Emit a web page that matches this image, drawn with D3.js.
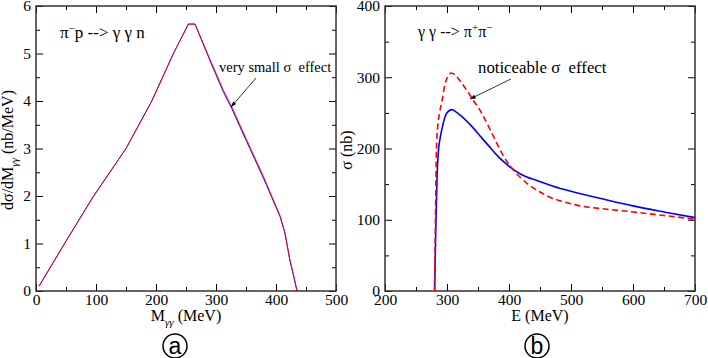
<!DOCTYPE html>
<html>
<head>
<meta charset="utf-8">
<script src="https://cdn.jsdelivr.net/npm/d3@7"></script>
<style>
  body { margin: 0; background: #fff; }
  svg text { font-family: "Liberation Serif", "Times New Roman", Times, "DejaVu Serif", serif; white-space: pre; }
</style>
</head>
<body>
<svg id="chart" width="708" height="358"></svg>
<script>
// panel a : pi- p --> gamma gamma n
var massA = [5, 50, 95, 150, 193, 229, 254, 265, 290, 312, 326, 351, 379, 393, 407, 415, 423, 430, 435];
var redA  = [0.1, 1.05, 1.98, 3.0, 4.0, 5.0, 5.62, 5.62, 4.88, 4.24, 3.89, 3.19, 2.42, 2.0, 1.58, 1.23, 0.67, 0.3, 0];
var blueA = [0.1, 1.05, 1.98, 3.0, 4.0, 5.0, 5.62, 5.62, 4.85, 4.2, 3.85, 3.15, 2.38, 1.97, 1.56, 1.21, 0.65, 0.28, 0];

// panel b : gamma gamma --> pi+ pi-
var energyBlue = [280, 282, 284, 286, 289, 292, 297, 302, 308, 315, 325, 340, 355, 367, 380, 394, 404, 420, 445, 470, 500, 550, 600, 650, 700];
var sigmaBlue  = [0, 90, 160, 195, 215, 228, 245, 252, 254.5, 251, 244, 231, 216, 204, 191, 179.5, 172.5, 163.5, 155, 147.5, 140, 129.5, 119.5, 111, 103];
var energyRed  = [280, 281.5, 283, 285, 288, 291.5, 297, 302, 307, 312, 320, 330, 340, 355, 367, 380, 390, 404, 420, 435, 450, 465, 485, 515, 555, 595, 635, 670, 700];
var sigmaRed   = [0, 110, 200, 230, 250, 265, 291, 302, 306, 304, 296, 284, 271, 251, 231, 208, 191, 173, 158, 147, 139, 132, 126, 119.5, 115, 111.5, 107.5, 104, 100.5];

var ticksA_x = [0, 100, 200, 300, 400, 500], minorA_x = [50, 150, 250, 350, 450];
var ticksA_y = [0, 1, 2, 3, 4, 5, 6], minorA_y = [0.5, 1.5, 2.5, 3.5, 4.5, 5.5];
var ticksB_x = [200, 300, 400, 500, 600, 700], minorB_x = [250, 350, 450, 550, 650];
var ticksB_y = [0, 100, 200, 300, 400], minorB_y = [50, 150, 250, 350];

var svg = d3.select("#chart");
var plotTop = 6, plotBottom = 291;
var serif = "'Liberation Serif', 'Times New Roman', Times, serif";

function frame(x, y, xt, xm, yt, ym) {
  var g = svg.append("g");
  var x0 = x.range()[0], x1 = x.range()[1];
  var fmt = d3.format("d");
  // major / minor ticks on all four sides, pointing inward
  var axes = [
    [d3.axisBottom(x).tickValues(xt).tickSize(-7).tickPadding(3).tickFormat(fmt), "translate(0," + plotBottom + ")"],
    [d3.axisBottom(x).tickValues(xm).tickSize(-4).tickFormat(""), "translate(0," + plotBottom + ")"],
    [d3.axisTop(x).tickValues(xt).tickSize(-7).tickFormat(""), "translate(0," + plotTop + ")"],
    [d3.axisTop(x).tickValues(xm).tickSize(-4).tickFormat(""), "translate(0," + plotTop + ")"],
    [d3.axisLeft(y).tickValues(yt).tickSize(-7).tickPadding(5).tickFormat(fmt), "translate(" + x0 + ",0)"],
    [d3.axisLeft(y).tickValues(ym).tickSize(-4).tickFormat(""), "translate(" + x0 + ",0)"],
    [d3.axisRight(y).tickValues(yt).tickSize(-7).tickFormat(""), "translate(" + x1 + ",0)"],
    [d3.axisRight(y).tickValues(ym).tickSize(-4).tickFormat(""), "translate(" + x1 + ",0)"]
  ];
  axes.forEach(function (a) {
    var ax = g.append("g").attr("transform", a[1]).call(a[0]);
    ax.attr("font-family", null);
    ax.select(".domain").remove();
    ax.selectAll("line").attr("stroke", "#000").attr("stroke-width", 1);
    ax.selectAll("text").attr("font-size", "15.5px").attr("fill", "#000")
      .style("font-family", serif);
  });
  g.append("rect").attr("x", x0).attr("y", plotTop).attr("width", x1 - x0).attr("height", plotBottom - plotTop)
    .attr("fill", "none").attr("stroke", "#333").attr("stroke-width", 1.5);
}

function arrow(x1, y1, x2, y2) {
  svg.append("line").attr("x1", x1).attr("y1", y1).attr("x2", x2).attr("y2", y2)
    .attr("stroke", "#000").attr("stroke-width", 0.8);
  var ang = Math.atan2(y2 - y1, x2 - x1), L = 6, w = 0.35;
  var p = [[x2, y2],
    [x2 - L * Math.cos(ang - w), y2 - L * Math.sin(ang - w)],
    [x2 - L * Math.cos(ang + w), y2 - L * Math.sin(ang + w)]];
  svg.append("path").attr("d", "M" + p.join("L") + "Z").attr("fill", "#000");
}

function circled(cx, cy, letter) {
  svg.append("circle").attr("cx", cx).attr("cy", cy).attr("r", 12)
    .attr("fill", "none").attr("stroke", "#000").attr("stroke-width", 1.5);
  svg.append("text").attr("x", cx).attr("y", cy + 8).attr("text-anchor", "middle")
    .style("font-family", "'Liberation Sans', Arial, sans-serif").attr("font-size", "23px").text(letter);
}

// ---------- panel a
var xA = d3.scaleLinear().domain([0, 500]).range([36, 336]);
var yA = d3.scaleLinear().domain([0, 6]).range([plotBottom, plotTop]);
frame(xA, yA, ticksA_x, minorA_x, ticksA_y, minorA_y);

var lineA = d3.line().x(function (d) { return xA(d[0]); }).y(function (d) { return yA(d[1]); });
svg.append("path").datum(d3.zip(massA, blueA)).attr("d", lineA)
  .attr("fill", "none").attr("stroke", "#0000ff").attr("stroke-width", 1);
svg.append("path").datum(d3.zip(massA, redA)).attr("d", lineA)
  .attr("fill", "none").attr("stroke", "#ff0000").attr("stroke-width", 1).attr("opacity", 0.8);

var tA = svg.append("text").attr("x", 60).attr("y", 38).attr("font-size", "17px");
tA.append("tspan").text("π");
tA.append("tspan").attr("dy", -6).attr("font-size", "11px").text("−");
tA.append("tspan").attr("dy", 6).text("p --> γ γ n");

svg.append("text").attr("x", 219).attr("y", 72).attr("font-size", "14.5px").text("very small σ  effect");
arrow(256, 78, 231, 107);

var xlA = svg.append("text").attr("x", 186).attr("y", 321).attr("text-anchor", "middle").attr("font-size", "16px");
xlA.append("tspan").text("M");
xlA.append("tspan").attr("dy", 5).attr("font-size", "11px").attr("font-style", "italic").text("γγ");
xlA.append("tspan").attr("dy", -5).text(" (MeV)");

var ylA = svg.append("text").attr("transform", "translate(13,150) rotate(-90)")
  .attr("text-anchor", "middle").attr("font-size", "16px");
ylA.append("tspan").text("dσ/dM");
ylA.append("tspan").attr("dy", 5).attr("font-size", "11px").attr("font-style", "italic").text("γγ");
ylA.append("tspan").attr("dy", -5).text(" (nb/MeV)");

circled(175, 346, "a");

// ---------- panel b
var xB = d3.scaleLinear().domain([200, 700]).range([385, 695]);
var yB = d3.scaleLinear().domain([0, 400]).range([plotBottom, plotTop]);
frame(xB, yB, ticksB_x, minorB_x, ticksB_y, minorB_y);

var lineB = d3.line().curve(d3.curveMonotoneX)
  .x(function (d) { return xB(d[0]); }).y(function (d) { return yB(d[1]); });
svg.append("path").datum(d3.zip(energyBlue, sigmaBlue)).attr("d", lineB)
  .attr("fill", "none").attr("stroke", "#0000ff").attr("stroke-width", 1.6);
svg.append("path").datum(d3.zip(energyRed, sigmaRed)).attr("d", lineB)
  .attr("fill", "none").attr("stroke", "#ff0000").attr("stroke-width", 1.6)
  .attr("stroke-dasharray", "6,3.5");

var tB = svg.append("text").attr("x", 418).attr("y", 37).attr("font-size", "16px");
tB.append("tspan").text("γ γ --> π");
tB.append("tspan").attr("dy", -6).attr("font-size", "11px").text("+");
tB.append("tspan").attr("dy", 6).text("π");
tB.append("tspan").attr("dy", -6).attr("font-size", "11px").text("−");

svg.append("text").attr("x", 478).attr("y", 73).attr("font-size", "16.8px").text("noticeable σ  effect");
arrow(511, 79, 470, 99);

svg.append("text").attr("x", 540).attr("y", 321).attr("text-anchor", "middle").attr("font-size", "16px").text("E (MeV)");
svg.append("text").attr("transform", "translate(352,150) rotate(-90)")
  .attr("text-anchor", "middle").attr("font-size", "16px").text("σ (nb)");

circled(537, 346, "b");
</script>
</body>
</html>
